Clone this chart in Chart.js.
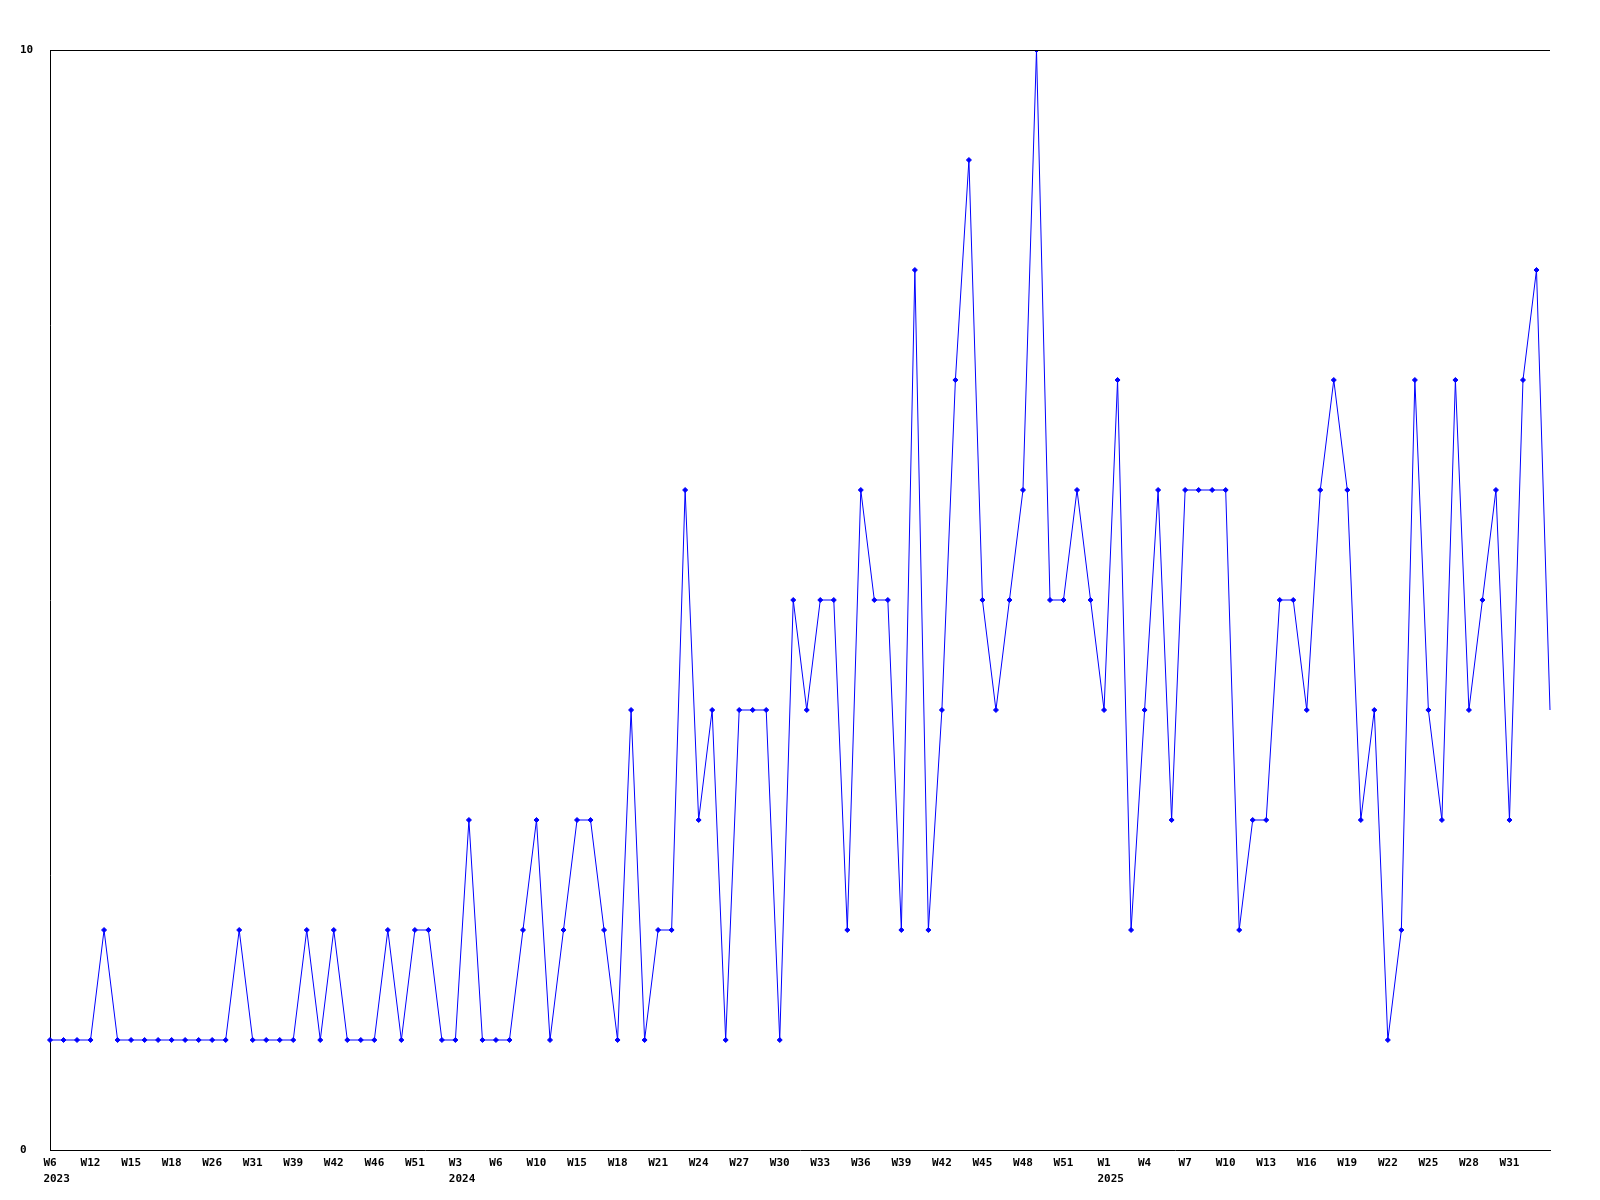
<!DOCTYPE html>
<html lang="en">
<head>
    <meta charset="UTF-8">
    <title>Weekly count</title>
    <script src="https://cdn.jsdelivr.net/npm/chart.js"></script>
    <style>
        body {
            background-color: #fff;
            margin: 0;
        }
        canvas {
            display: block;
        }
    </style>
</head>
<body>
    <canvas id="weekChart" width="1600" height="1200"></canvas>

    <script>
        // one value per week, in order
        const counts = [
            1, 1, 1, 1, 2, 1, 1, 1, 1, 1,
            1, 1, 1, 1, 2, 1, 1, 1, 1, 2,
            1, 2, 1, 1, 1, 2, 1, 2, 2, 1,
            1, 3, 1, 1, 1, 2, 3, 1, 2, 3,
            3, 2, 1, 4, 1, 2, 2, 6, 3, 4,
            1, 4, 4, 4, 1, 5, 4, 5, 5, 2,
            6, 5, 5, 2, 8, 2, 4, 7, 9, 5,
            4, 5, 6, 10, 5, 5, 6, 5, 4, 7,
            2, 4, 6, 3, 6, 6, 6, 6, 2, 3,
            3, 5, 5, 4, 6, 7, 6, 3, 4, 1,
            2, 7, 4, 3, 7, 4, 5, 6, 3, 7,
            8, 4
        ];

        // labels shown under every third week
        const tickLabels = [
            'W6', 'W12', 'W15', 'W18', 'W26', 'W31', 'W39', 'W42', 'W46', 'W51',
            'W3', 'W6', 'W10', 'W15', 'W18', 'W21', 'W24', 'W27', 'W30', 'W33',
            'W36', 'W39', 'W42', 'W45', 'W48', 'W51',
            'W1', 'W4', 'W7', 'W10', 'W13', 'W16', 'W19', 'W22', 'W25', 'W28', 'W31'
        ];
        const tickEvery = 3;

        // year printed under the first tick label of that year
        const yearTicks = [0, 10, 26];
        const years = ['2023', '2024', '2025'];

        const yTicks = [0, 10];

        const labels = counts.map(function(v, i) {
            if (i % tickEvery !== 0) return '';
            const k = i / tickEvery;
            const wk = tickLabels[k] || '';
            const y = yearTicks.indexOf(k);
            if (y < 0) return wk;
            // left-align the year under the week label (monospace)
            return [wk, ' '.repeat(Math.max(0, 4 - wk.length)) + years[y]];
        });

        const font = { family: '"DejaVu Sans Mono", "Liberation Mono", monospace', size: 11, weight: 'bold', lineHeight: 1.45 };

        const topLine = {
            id: 'topLine',
            afterDraw(chart) {
                const a = chart.chartArea;
                const c = chart.ctx;
                c.save();
                c.strokeStyle = '#000';
                c.lineWidth = 1;
                c.beginPath();
                c.moveTo(a.left, a.top + 0.5);
                c.lineTo(a.right, a.top + 0.5);
                c.stroke();
                c.restore();
            }
        };

        const pointSizes = counts.map(function(v, i) {
            return i === counts.length - 1 ? 0 : 2.5;
        });

        const ctx = document.getElementById('weekChart').getContext('2d');

        new Chart(ctx, {
            type: 'line',
            data: {
                labels: labels,
                datasets: [{
                    data: counts,
                    borderColor: '#0000ff',
                    backgroundColor: '#0000ff',
                    borderWidth: 1,
                    tension: 0,
                    fill: false,
                    pointStyle: 'rectRot',
                    pointRadius: pointSizes,
                    pointBorderWidth: 1,
                    pointBorderColor: '#0000ff',
                    pointBackgroundColor: '#0000ff'
                }]
            },
            plugins: [topLine],
            options: {
                responsive: false,
                animation: false,
                layout: {
                    padding: { left: 20, top: 50, right: 50, bottom: 0 }
                },
                plugins: {
                    legend: { display: false },
                    tooltip: { enabled: false }
                },
                scales: {
                    x: {
                        offset: false,
                        grid: { display: false },
                        border: { display: true, color: '#000', width: 1 },
                        ticks: {
                            autoSkip: false,
                            maxRotation: 0,
                            minRotation: 0,
                            padding: -3,
                            color: '#000',
                            font: font
                        },
                        afterFit: function(scale) { scale.height = 50; }
                    },
                    y: {
                        min: 0,
                        max: 10,
                        grid: { display: false },
                        border: { display: true, color: '#000', width: 1 },
                        afterBuildTicks: function(scale) {
                            scale.ticks = yTicks.map(function(v) { return { value: v }; });
                        },
                        ticks: {
                            crossAlign: 'far',
                            color: '#000',
                            font: font
                        },
                        afterFit: function(scale) { scale.width = 30; }
                    }
                }
            }
        });
    </script>
</body>
</html>
